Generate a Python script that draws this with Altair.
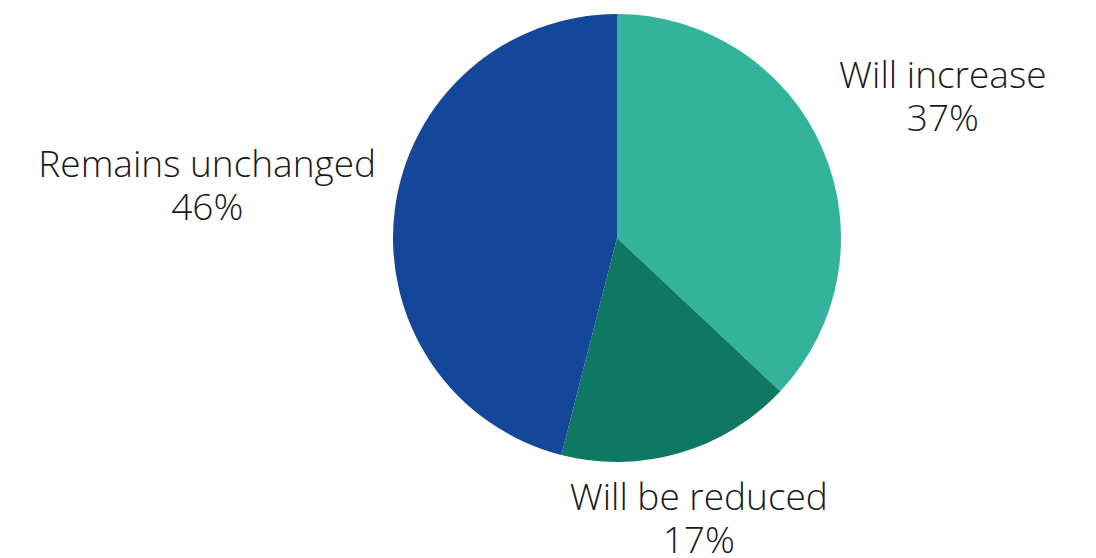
import altair as alt
import pandas as pd
import math

categories = ["Will increase", "Will be reduced", "Remains unchanged"]
values = [37, 17, 46]
colors = ["#33B39B", "#0E7862", "#144699"]

# label placement distance from pie centre (style, not data)
label_radius = [355, 293, 413]

df = pd.DataFrame({
    "category": categories,
    "value": values,
    "order": list(range(len(categories))),
    "lr": label_radius,
})

cx, cy, R = 617, 238, 224

pie = alt.Chart(df).mark_arc(outerRadius=R).encode(
    theta=alt.Theta("value:Q", stack=True),
    order=alt.Order("order:Q"),
    x=alt.value(cx),
    y=alt.value(cy),
    color=alt.Color("category:N", scale=alt.Scale(domain=categories, range=colors), legend=None),
)

labels = alt.Chart(df).transform_joinaggregate(
    total="sum(value)"
).transform_window(
    cum="sum(value)", sort=[alt.SortField("order")], frame=[None, 0]
).transform_calculate(
    mid="(datum.cum - datum.value / 2) / datum.total",
    label="datum.category + '\\n' + datum.value + '%'",
).mark_text(
    font="Open Sans", fontWeight=300, fontSize=37, lineBreak="\n", lineHeight=43,
    color="#1a1a1a", align="center", baseline="middle", dy=-20,
).encode(
    theta=alt.Theta("mid:Q", stack=None, scale=alt.Scale(domain=[0, 1], range=[0, 2 * math.pi])),
    radius=alt.Radius("lr:Q", scale=None),
    x=alt.value(cx),
    y=alt.value(cy),
    text="label:N",
)

chart = (pie + labels).resolve_scale(theta="independent").properties(
    width=1096, height=558, autosize=alt.AutoSizeParams(type="none"), padding=0,
    background="white",
).configure_view(stroke=None)

chart.save("out.html", embed_options={"renderer": "svg", "actions": False})
